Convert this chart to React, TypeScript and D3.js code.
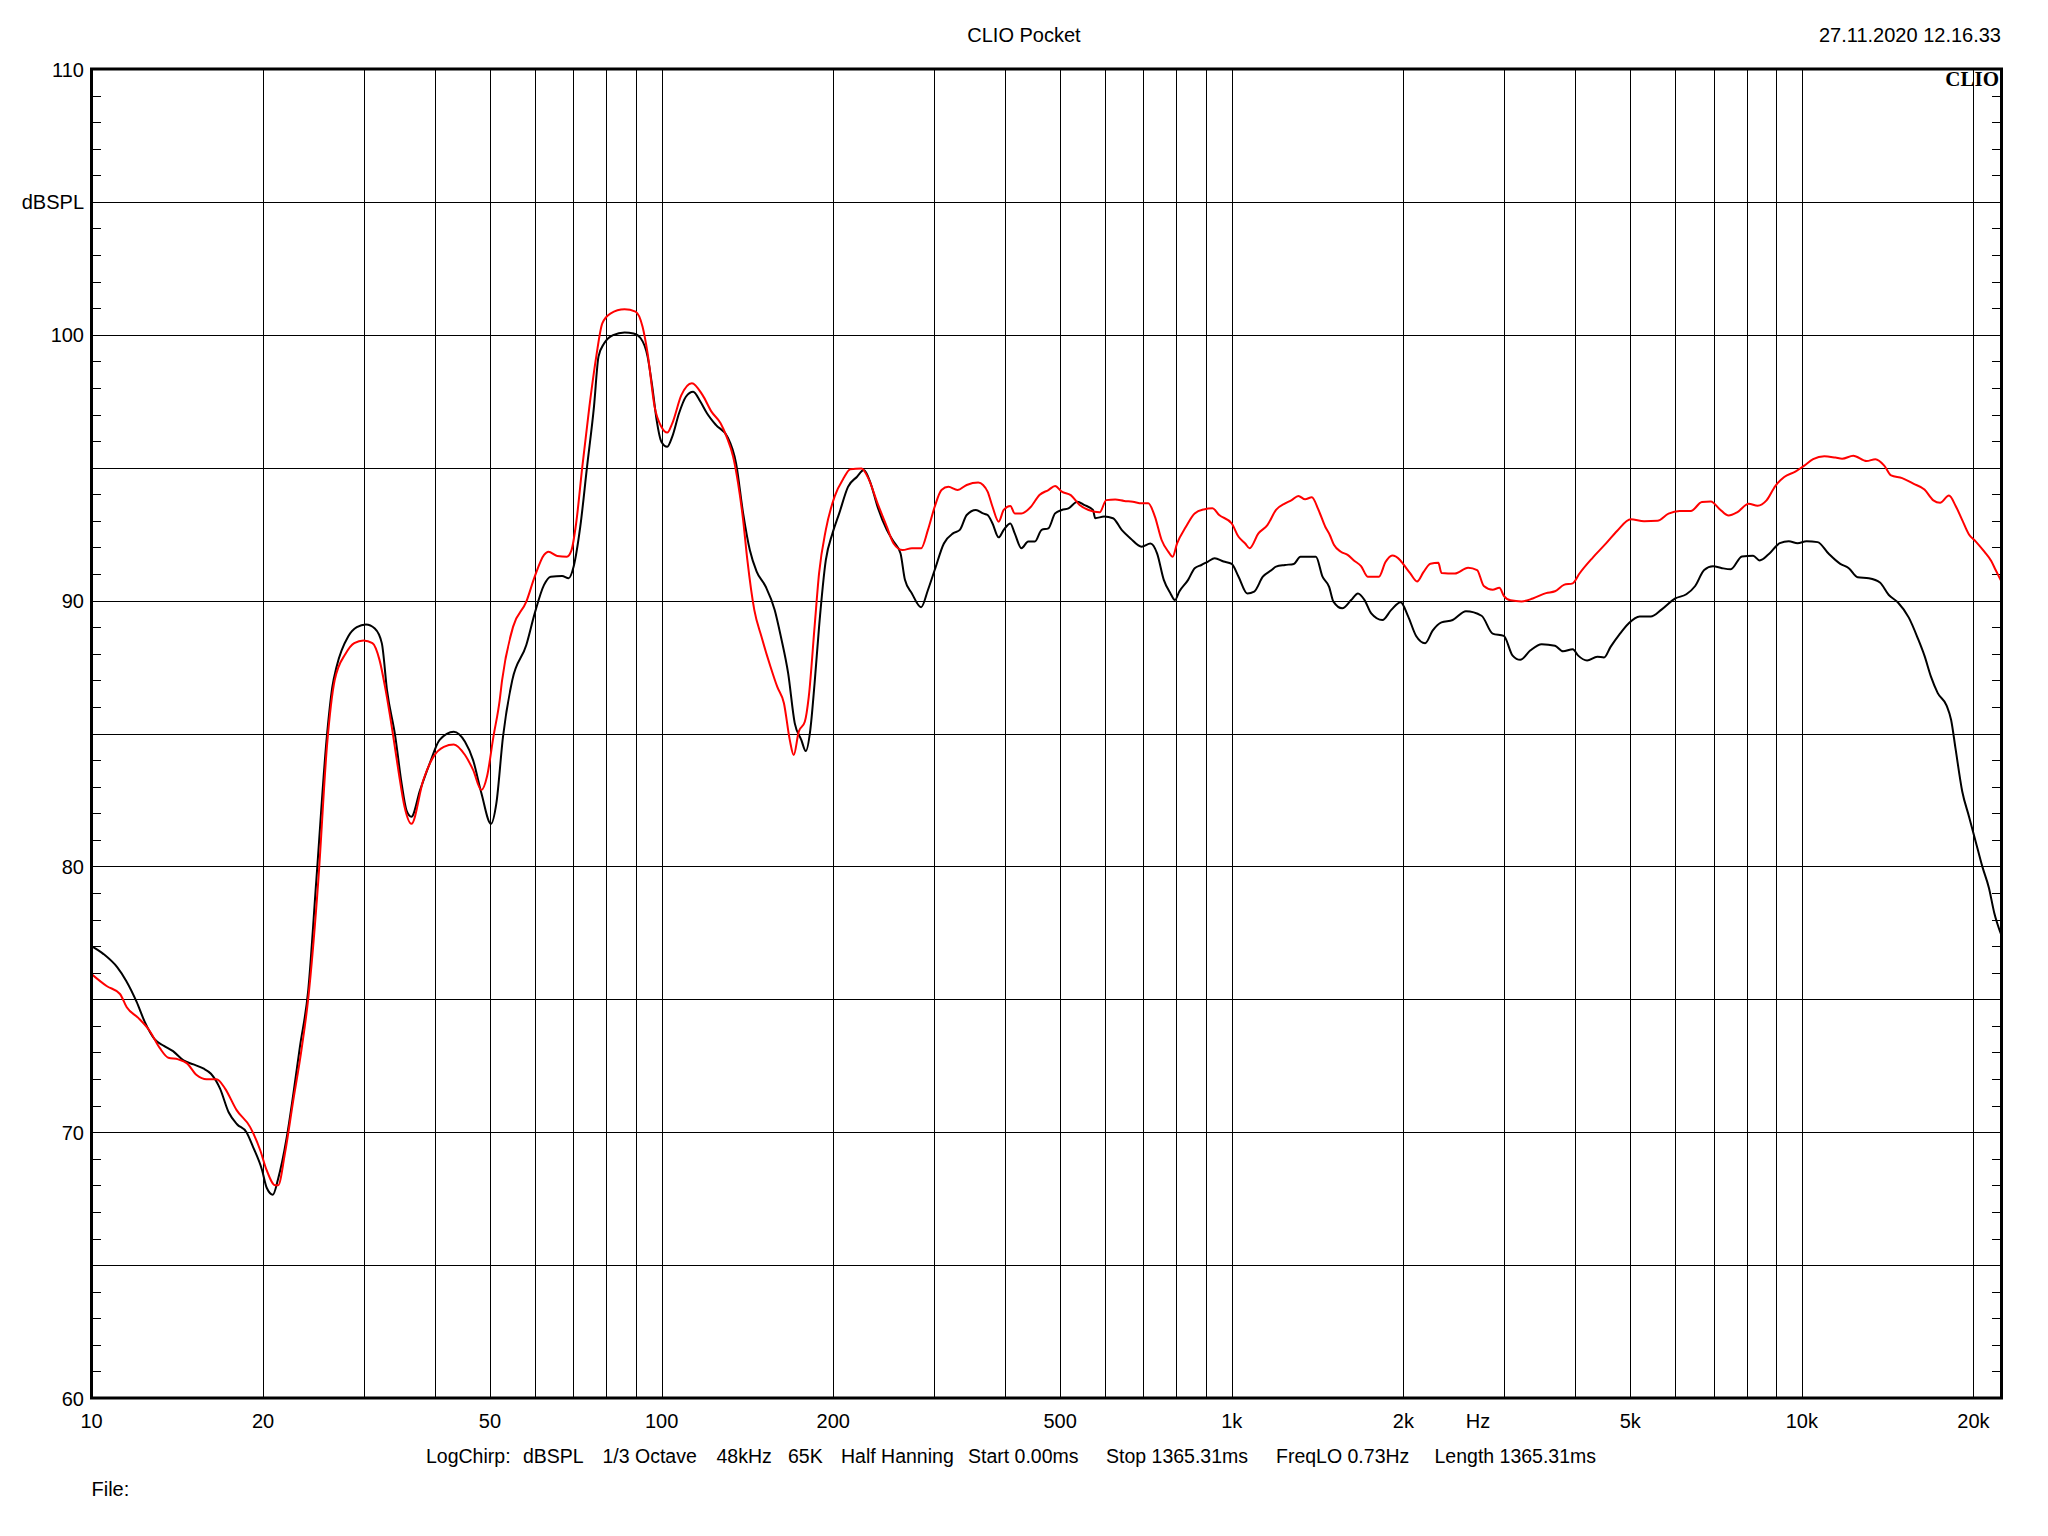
import React from "react";
import * as d3 from "d3";

// ---------- data ----------
const blackSeries: [number, number][] = [
  [10, 77.0], [10.5, 76.7], [11.1, 76.2], [11.5, 75.7], [12.0, 74.9], [12.4, 74.15], [12.9, 73.5],
  [13.4, 73.25], [13.9, 73.05], [14.5, 72.7], [15.1, 72.55], [15.7, 72.4], [16.2, 72.2], [16.8, 71.65],
  [17.4, 70.75], [18.0, 70.3], [18.7, 70.0], [19.2, 69.45], [19.9, 68.6], [20.3, 67.9], [20.8, 67.65],
  [21.25, 68.25], [22.0, 69.8], [22.6, 71.45], [23.2, 73.2], [24.0, 75.35], [24.8, 79.5], [25.9, 85.0],
  [26.45, 86.75], [26.9, 87.5], [28.2, 88.65], [29.2, 89.0], [30.3, 89.1], [31.4, 88.95], [32.3, 88.4],
  [33.0, 86.6], [34.1, 84.9], [35.0, 83.1], [35.7, 82.1], [36.4, 81.87], [37.7, 82.87], [39.2, 83.88],
  [40.8, 84.76], [43.2, 85.07], [45.2, 84.69], [46.7, 84.0], [48.3, 82.75], [50.2, 81.6], [51.3, 82.37],
  [52.7, 84.88], [54.7, 87.0], [57.9, 88.33], [59.9, 89.52], [62.2, 90.59], [63.9, 90.9], [66.9, 90.93],
  [68.7, 90.84], [70.1, 91.28], [72.0, 92.78], [74.0, 95.04], [76.1, 97.3], [77.5, 99.18], [79.3, 99.68],
  [82.2, 99.99], [86.1, 100.09], [89.3, 100.05], [91.9, 99.87], [94.5, 99.18], [96.3, 98.05], [98.0, 96.8],
  [99.9, 95.98], [102.3, 95.79], [104.4, 96.17], [107.3, 97.05], [110.3, 97.67], [113.6, 97.86],
  [117.0, 97.48], [120.1, 97.05], [124.5, 96.61], [130.4, 96.17], [135.1, 95.16], [139.0, 93.28],
  [142.8, 91.9], [146.8, 91.09], [152.3, 90.52], [157.9, 89.65], [161.9, 88.64], [166.7, 87.27],
  [171.2, 85.39], [175.8, 84.76], [179.0, 84.34], [182.3, 85.13], [185.5, 86.89], [188.9, 89.02],
  [194.1, 91.52], [199.4, 92.53], [204.9, 93.28], [212.3, 94.28], [220.2, 94.66], [226.3, 94.91],
  [232.6, 94.41], [239.2, 93.53], [248.3, 92.66], [255.2, 92.22], [262.4, 91.78], [267.2, 90.78],
  [274.8, 90.27], [285.2, 89.75], [293.2, 90.4], [301.3, 91.15], [312.7, 92.15], [324.5, 92.53],
  [333.5, 92.66], [342.9, 93.22], [355.9, 93.41], [366.3, 93.28], [373.1, 93.22], [380.6, 92.9],
  [390.1, 92.38], [398.2, 92.66], [409.0, 92.9], [416.3, 92.53], [427.7, 91.97], [439.6, 92.22],
  [451.6, 92.22], [464.1, 92.66], [476.9, 92.72], [490, 93.28], [503.4, 93.41], [517.2, 93.47],
  [536.1, 93.72], [550.8, 93.6], [571.0, 93.41], [576.2, 93.1], [597.3, 93.16], [619.1, 93.1],
  [641.2, 92.66], [664.5, 92.34], [694.9, 92.03], [720.2, 92.15], [739.7, 91.78], [760.1, 90.78],
  [780.9, 90.27], [795.0, 90.02], [809.3, 90.34], [838.6, 90.78], [861.1, 91.22], [884.8, 91.34],
  [908.7, 91.47], [933.3, 91.59], [967.7, 91.47], [1000, 91.38], [1028, 90.9], [1065, 90.27],
  [1095, 90.34], [1134, 90.9], [1175, 91.15], [1196, 91.28], [1240, 91.34], [1285, 91.38],
  [1320, 91.65], [1368, 91.65], [1405, 91.65], [1443, 90.9], [1482, 90.52], [1508, 89.96],
  [1563, 89.71], [1620, 90.02], [1665, 90.27], [1710, 90.02], [1757, 89.52], [1838, 89.27],
  [1905, 89.65], [1978, 89.94], [2040, 89.4], [2106, 88.67], [2184, 88.4], [2251, 88.87],
  [2333, 89.18], [2441, 89.27], [2576, 89.6], [2743, 89.43], [2869, 88.76], [3001, 88.67],
  [3110, 87.93], [3207, 87.77], [3342, 88.13], [3497, 88.36], [3690, 88.3], [3811, 88.09],
  [3965, 88.17], [4053, 87.93], [4201, 87.75], [4378, 87.89], [4498, 87.86], [4619, 88.26],
  [4788, 88.73], [4963, 89.13], [5194, 89.4], [5432, 89.4], [5681, 89.67], [5998, 90.08],
  [6273, 90.24], [6501, 90.55], [6741, 91.15], [6986, 91.29], [7243, 91.22], [7506, 91.18],
  [7850, 91.66], [8214, 91.69], [8436, 91.51], [8745, 91.74], [9150, 92.16], [9485, 92.23],
  [9831, 92.16], [10190, 92.23], [10659, 92.2], [11148, 91.76], [11663, 91.39], [12090, 91.22],
  [12533, 90.88], [13107, 90.84], [13709, 90.68], [14210, 90.21], [14732, 89.94], [15406, 89.36],
  [15971, 88.59], [16410, 87.93], [16859, 87.12], [17315, 86.52], [17947, 86.05], [18277, 85.51],
  [18605, 84.43], [19116, 82.82], [19642, 81.88], [20178, 80.94], [20727, 80.0], [21292, 79.19],
  [21756, 78.25], [22354, 77.45],
];

const redSeries: [number, number][] = [
  [10, 75.95], [10.63, 75.5], [11.22, 75.2], [11.53, 74.7], [12.08, 74.3], [12.66, 73.8],
  [13.18, 73.16], [13.64, 72.8], [14.2, 72.74], [14.69, 72.6], [15.29, 72.15], [15.92, 71.99],
  [16.57, 71.99], [17.14, 71.65], [17.97, 70.83], [18.97, 70.2], [19.76, 69.33], [20.28, 68.58],
  [21.0, 68.0], [21.25, 68.0], [21.84, 69.2], [22.59, 71.2], [23.35, 73.1], [23.98, 74.97],
  [25.0, 79.5], [25.9, 84.6], [26.7, 87.0], [27.9, 88.0], [28.9, 88.4], [30.0, 88.5], [31.1, 88.4],
  [32.0, 87.77], [32.8, 86.64], [33.7, 85.13], [34.6, 83.5], [35.4, 82.25], [36.4, 81.6],
  [38.2, 83.25], [39.8, 84.13], [41.5, 84.5], [43.2, 84.59], [45.2, 84.19], [46.7, 83.63],
  [48.3, 82.87], [49.4, 83.38], [50.7, 84.88], [52.0, 86.26], [52.5, 87.0], [54.9, 89.02],
  [57.9, 89.96], [59.9, 90.9], [62.2, 91.72], [63.3, 91.84], [65.6, 91.68], [68.2, 91.65],
  [69.5, 91.9], [70.8, 92.9], [72.6, 95.04], [74.7, 97.3], [76.8, 99.18], [78.7, 100.43],
  [81.3, 100.8], [86.1, 100.96], [90.0, 100.87], [92.6, 100.3], [94.5, 99.3], [97.2, 97.3],
  [99.9, 96.54], [102.3, 96.32], [104.4, 96.67], [108.3, 97.73], [113.0, 98.18], [118.0, 97.73],
  [122.4, 97.1], [126.9, 96.67], [130.0, 96.17], [133.5, 95.41], [136.2, 94.41], [139, 93.03],
  [141.4, 91.52], [145.4, 89.65], [149.7, 88.64], [155.2, 87.52], [159.5, 86.76], [163.9, 86.14],
  [167.8, 84.76], [170.5, 84.19], [174, 85.07], [178.3, 85.44], [181.2, 86.39], [185.5, 89.02],
  [188.9, 91.03], [194.1, 92.66], [201.1, 93.91], [208.5, 94.6], [214.3, 94.94], [224.2, 94.97],
  [230.5, 94.6], [239.2, 93.66], [248.3, 92.78], [255.2, 92.15], [264.8, 91.9], [274.8, 91.97],
  [285.2, 91.97], [293.2, 92.66], [301.3, 93.53], [309.7, 94.16], [318.4, 94.28], [330.3, 94.16],
  [342.9, 94.35], [359.3, 94.44], [366.3, 94.35], [373.1, 94.1], [380.6, 93.53], [390.1, 92.97],
  [398.2, 93.41], [409, 93.56], [416.3, 93.28], [427.7, 93.28], [443.6, 93.51], [460, 93.97],
  [476.9, 94.16], [490, 94.31], [503.4, 94.1], [522, 93.97], [541, 93.6], [561, 93.41],
  [586.7, 93.32], [602.6, 93.78], [624.7, 93.8], [647.6, 93.75], [670.7, 93.72], [694.9, 93.66],
  [713.8, 93.66], [733.3, 93.16], [753.4, 92.28], [774, 91.84], [787.7, 91.65], [802, 92.15],
  [831.2, 92.78], [861, 93.28], [893, 93.43], [925.2, 93.47], [950.6, 93.22], [1000, 92.9],
  [1028, 92.4], [1056, 92.15], [1075, 91.97], [1114, 92.53], [1155, 92.84], [1196, 93.41],
  [1241, 93.66], [1274, 93.78], [1309, 93.94], [1345, 93.81], [1382, 93.89], [1420, 93.41],
  [1459, 92.78], [1486, 92.47], [1512, 92.09], [1554, 91.84], [1597, 91.72], [1640, 91.5],
  [1686, 91.3], [1732, 90.9], [1780, 90.9], [1812, 90.9], [1861, 91.45], [1912, 91.7],
  [1975, 91.52], [2003, 91.35], [2057, 91.02], [2114, 90.72], [2171, 91.08], [2231, 91.39],
  [2304, 91.42], [2333, 91.04], [2463, 91.02], [2598, 91.24], [2694, 91.15], [2768, 90.55],
  [2869, 90.41], [2948, 90.48], [3001, 90.18], [3083, 90.01], [3224, 89.97], [3374, 90.08],
  [3559, 90.28], [3690, 90.35], [3825, 90.59], [3965, 90.65], [4074, 91.02], [4299, 91.62],
  [4539, 92.16], [4746, 92.63], [5011, 93.06], [5288, 92.99], [5582, 93.0], [5837, 93.27],
  [6105, 93.37], [6388, 93.37], [6680, 93.71], [6925, 93.73], [7178, 93.44], [7441, 93.2],
  [7712, 93.33], [8069, 93.64], [8366, 93.57], [8671, 93.77], [8984, 94.31], [9314, 94.65],
  [9741, 94.85], [10098, 95.08], [10467, 95.32], [10951, 95.43], [11453, 95.38], [11768, 95.34],
  [12310, 95.45], [12990, 95.25], [13461, 95.32], [13950, 95.08], [14339, 94.71], [14997, 94.61],
  [15690, 94.4], [16410, 94.18], [17011, 93.77], [17479, 93.68], [18118, 93.95], [18605, 93.57],
  [19116, 93.03], [19642, 92.49], [20178, 92.23], [20918, 91.83], [21491, 91.49], [21878, 91.15],
  [22354, 90.75],
];

const yLabelValues = [110, 105, 100, 90, 80, 70, 60];
const yLabelTexts = ["110", "dBSPL", "100", "90", "80", "70", "60"];
const xLabelValues = [10, 20, 50, 100, 200, 500, 1000, 2000, 5000, 10000, 20000];
const xLabelTexts = ["10", "20", "50", "100", "200", "500", "1k", "2k", "5k", "10k", "20k"];
const gridFreqs = [
  20, 30, 40, 50, 60, 70, 80, 90, 100, 200, 300, 400, 500, 600, 700, 800, 900,
  1000, 2000, 3000, 4000, 5000, 6000, 7000, 8000, 9000, 10000, 20000,
];
const gridDbs = [65, 70, 75, 80, 85, 90, 95, 100, 105];
const infoTexts = [
  "LogChirp:", "dBSPL", "1/3 Octave", "48kHz", "65K", "Half Hanning",
  "Start 0.00ms", "Stop 1365.31ms", "FreqLO 0.73Hz", "Length 1365.31ms",
];
const infoX = [426, 523, 602.5, 716.5, 788, 841, 968, 1106, 1276, 1434.5];

const titleText = "CLIO Pocket";
const dateText = "27.11.2020 12.16.33";

// ---------- layout ----------
const W = 2048;
const H = 1536;
const X0 = 91.5;
const X1 = 2001.5;
const Y0 = 69;
const Y1 = 1398;
const FONT = "'Liberation Sans', Arial, Helvetica, sans-serif";

export default function App() {
  const x = d3.scaleLog().domain([10, 22400]).range([X0, X1]);
  const y = d3.scaleLinear().domain([60, 110]).range([Y1, Y0]);
  const line = d3
    .line<[number, number]>()
    .x((d) => x(d[0]))
    .y((d) => y(d[1]))
    .curve(d3.curveMonotoneX);

  const crisp = (v: number) => Math.round(v) + 0.5;
  const minorDbs = d3.range(61, 110).filter((v) => v % 5 !== 0);

  return (
    <svg
      width={W}
      height={H}
      style={{ position: "absolute", left: 0, top: 0, background: "#fff" }}
      fontFamily={FONT}
    >
      <rect x={0} y={0} width={W} height={H} fill="#fff" />
      <defs>
        <clipPath id="plotClip">
          <rect x={X0} y={Y0} width={X1 - X0} height={Y1 - Y0} />
        </clipPath>
      </defs>

      {/* grid */}
      <g stroke="#000" strokeWidth={1} shapeRendering="crispEdges">
        {gridFreqs.map((f) => (
          <line key={"vx" + f} x1={crisp(x(f))} x2={crisp(x(f))} y1={Y0} y2={Y1} />
        ))}
        {gridDbs.map((v) => (
          <line key={"hy" + v} x1={X0} x2={X1} y1={crisp(y(v))} y2={crisp(y(v))} />
        ))}
        {minorDbs.map((v) => (
          <g key={"mt" + v}>
            <line x1={X0} x2={X0 + 9.5} y1={crisp(y(v))} y2={crisp(y(v))} />
            <line x1={X1 - 9.5} x2={X1} y1={crisp(y(v))} y2={crisp(y(v))} />
          </g>
        ))}
      </g>

      {/* curves */}
      <g clipPath="url(#plotClip)" fill="none" strokeWidth={2} strokeLinejoin="round">
        <path d={line(blackSeries) || ""} stroke="#000" />
        <path d={line(redSeries) || ""} stroke="#ff0000" />
      </g>

      {/* frame */}
      <rect
        x={X0}
        y={Y0}
        width={X1 - X0}
        height={Y1 - Y0}
        fill="none"
        stroke="#000"
        strokeWidth={3}
      />

      {/* CLIO logo */}
      <text
        x={1999}
        y={86}
        textAnchor="end"
        fontFamily="'Liberation Serif', 'Times New Roman', serif"
        fontWeight="bold"
        fontSize={21}
        fill="#000"
      >
        CLIO
      </text>

      {/* y labels */}
      {yLabelValues.map((v, i) => (
        <text key={"yl" + v} x={84} y={y(v) + 7.5} textAnchor="end" fontSize={20} fill="#000">
          {yLabelTexts[i]}
        </text>
      ))}

      {/* x labels */}
      {xLabelValues.map((f, i) => (
        <text key={"xl" + f} x={x(f)} y={1428} textAnchor="middle" fontSize={20} fill="#000">
          {xLabelTexts[i]}
        </text>
      ))}
      <text x={1478} y={1428} textAnchor="middle" fontSize={20} fill="#000">
        Hz
      </text>

      {/* title + date */}
      <text x={1024} y={41.5} textAnchor="middle" fontSize={20} fill="#000">
        {titleText}
      </text>
      <text x={2001} y={41.5} textAnchor="end" fontSize={20} fill="#000">
        {dateText}
      </text>

      {/* info line */}
      {infoTexts.map((t, i) => (
        <text key={"info" + i} x={infoX[i]} y={1463} fontSize={19.5} fill="#000">
          {t}
        </text>
      ))}
      <text x={91.5} y={1496} fontSize={20} fill="#000">
        File:
      </text>
    </svg>
  );
}
